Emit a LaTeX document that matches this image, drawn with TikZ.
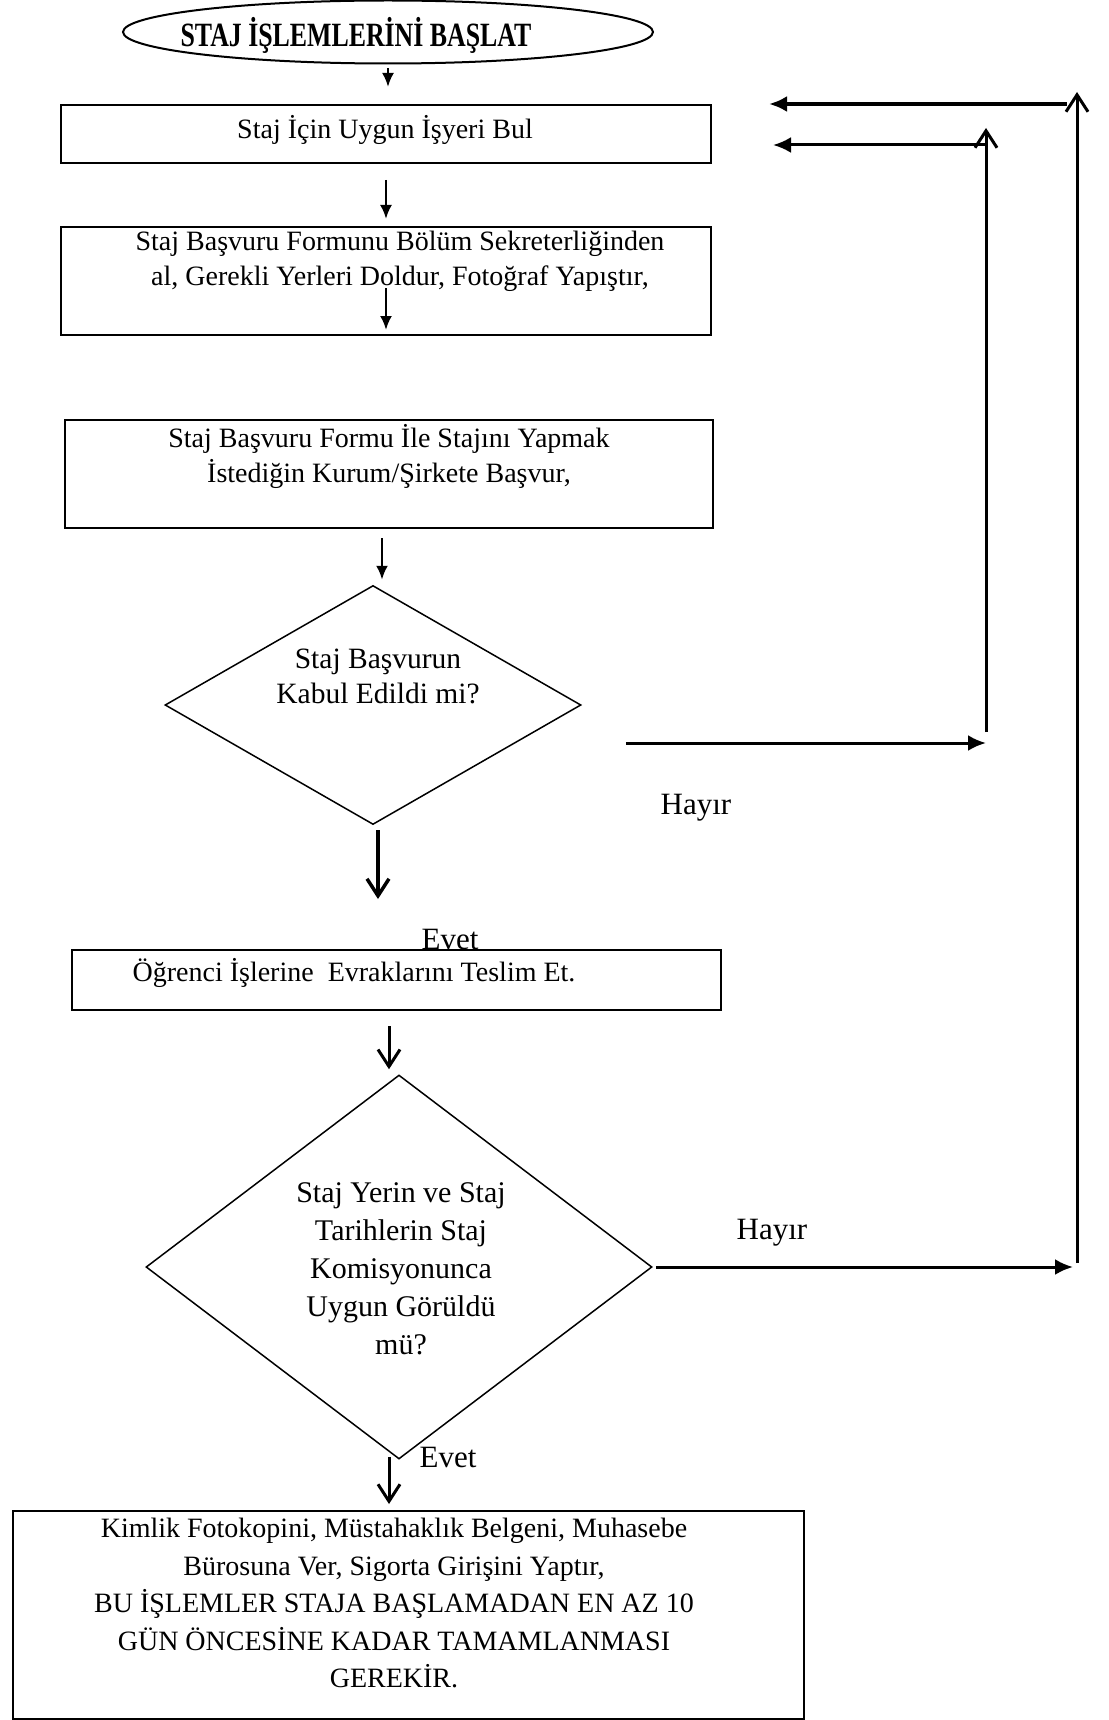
\documentclass[tikz,border=0pt]{standalone}
\usepackage{fontspec}
\setmainfont{Liberation Serif}
\newfontfamily\titlefont[FakeStretch=0.76]{Liberation Serif Bold}
\usetikzlibrary{positioning,shapes.geometric,arrows.meta}

\begin{document}
\begin{tikzpicture}[x=1pt,y=-1pt,
  box/.style={draw,line width=2pt,inner sep=0pt},
  txt/.style={align=center,inner sep=0pt,font=\fontsize{28}{35}\selectfont},
  ask/.style={draw,diamond,line width=1.5pt,inner sep=0pt},
  lbl/.style={inner sep=0pt,font=\fontsize{31}{35}\selectfont},
  fill arrow/.style={line width=3pt,-{Latex[length=18pt,width=16pt]}},
  open arrow/.style={line width=3pt,-{Straight Barb[length=17pt,width=22pt]}},
  small arrow/.style={line width=2.5pt,-{Latex[length=14pt,width=12pt]}}]
\useasboundingbox (0,0) rectangle (1108,1720);
\node[ellipse,draw,line width=2pt,minimum width=530pt,minimum height=63pt,inner sep=0pt] (start) at (388,32) {};
\node[inner sep=0pt,font={\titlefont\fontsize{34}{34}\selectfont}] (title) at (356,35) {STAJ İŞLEMLERİNİ BAŞLAT};
\node[box,minimum width=650pt,minimum height=58pt] (b1) at (386,134) {};
\node[txt] (t1) at (385,130) {Staj İçin Uygun İşyeri Bul};
\node[box,minimum width=650pt,minimum height=108pt] (b2) at (386,281) {};
\node[txt] (t2) at (400,261) {Staj Başvuru Formunu Bölüm Sekreterliğinden\\al, Gerekli Yerleri Doldur, Fotoğraf Yapıştır,};
\node[box,minimum width=648pt,minimum height=108pt] (b3) at (389,474) {};
\node[txt] (t3) at (389,456) {Staj Başvuru Formu İle Stajını Yapmak\\İstediğin Kurum/Şirkete Başvur,};
\node[ask,minimum width=416pt,minimum height=239pt] (d1) at (373,705) {};
\node[txt,font=\fontsize{29.5}{35}\selectfont] (q1) at (378,676) {Staj Başvurun\\Kabul Edildi mi?};
\node[box,minimum width=649pt,minimum height=60pt] (b4) at (396,980) {};
\node[txt] (t4) at (354,973) {Öğrenci İşlerine\ \ Evraklarını Teslim Et.};
\node[ask,minimum width=506pt,minimum height=384pt] (d2) at (399,1267) {};
\node[txt,font=\fontsize{30}{38}\selectfont] (q2) at (401,1269) {Staj Yerin ve Staj\\Tarihlerin Staj\\Komisyonunca\\Uygun Görüldü\\mü?};
\node[box,minimum width=791pt,minimum height=208pt] (b5) at (408,1615) {};
\node[txt,font=\fontsize{28}{37.5}\selectfont] (t5) at (394,1603) {Kimlik Fotokopini, Müstahaklık Belgeni, Muhasebe\\Bürosuna Ver, Sigorta Girişini Yaptır,\\BU İŞLEMLER STAJA BAŞLAMADAN EN AZ 10\\GÜN ÖNCESİNE KADAR TAMAMLANMASI\\GEREKİR.};
\node[lbl] (no1) at (696,808) {Hayır};
\node[lbl] (no2) at (772,1233) {Hayır};
\node[lbl] (yes1) at (450,939) {Evet};
\node[lbl] (yes2) at (448,1457) {Evet};
\coordinate (n1) at (986,743);
\coordinate (n2) at (986,128);
\coordinate (m1) at (1077,1267);
\coordinate (m2) at (1077,92);
\draw[small arrow,shorten <=4pt,shorten >=17pt] (start.south) -- (start.south |- b1.north);
\draw[small arrow,shorten <=16pt,shorten >=7pt] (b1.south) -- (b2.north);
\draw[small arrow,shorten >=6pt] ([yshift=-7pt]b2.center) -- (b2.south);
\draw[small arrow,shorten <=9pt,shorten >=5pt] ([xshift=-7pt]b3.south) -- ([xshift=-7pt]b3.south |- d1.north);
\draw[open arrow,line width=3.5pt,shorten <=5pt,shorten >=50pt] ([xshift=5pt]d1.south) -- ([xshift=5pt]d1.south |- b4.north);
\draw[open arrow,shorten <=15pt,shorten >=5pt] ([xshift=-10pt]d2.north |- b4.south) -- ([xshift=-10pt]d2.north);
\draw[open arrow,shorten <=-3pt,shorten >=6pt] ([xshift=-10pt]d2.south) -- ([xshift=-10pt]d2.south |- b5.north);
\draw[fill arrow] ([xshift=44pt,yshift=-38pt]d1.east) -- (n1);
\draw[open arrow] ([yshift=11pt]n1) -- (n2);
\draw[fill arrow] ([yshift=-17pt]n2) -- ([xshift=61pt,yshift=-11pt]b1.east);
\draw[fill arrow,shorten <=3pt,shorten >=4pt] (d2.east) -- (m1);
\draw[open arrow] ([yshift=4pt]m1) -- (m2);
\draw[fill arrow,line width=4.5pt] ([xshift=-10pt,yshift=-12pt]m2) -- ([xshift=57pt,yshift=30pt]b1.east);
\end{tikzpicture}
\end{document}
